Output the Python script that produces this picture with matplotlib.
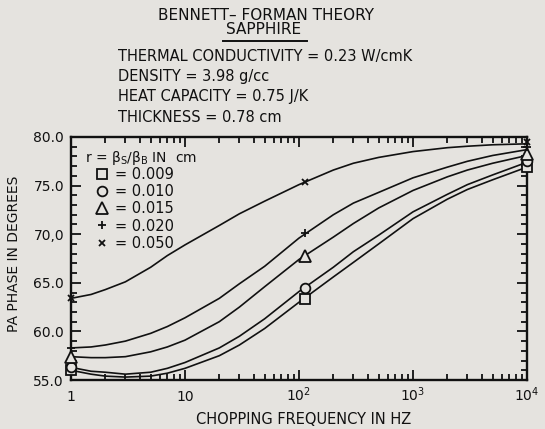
import matplotlib
matplotlib.use("Agg")
import matplotlib.pyplot as plt
from matplotlib.ticker import FixedLocator, FixedFormatter, MultipleLocator, LogLocator, NullFormatter
from matplotlib.lines import Line2D

# ---------------- data ----------------
freq = [1, 1.5, 2, 3, 5, 7, 10, 20, 30, 50, 100, 200, 300, 500, 1000, 2000, 3000, 5000, 10000]
phase_r009 = [56.0, 55.6, 55.4, 55.3, 55.4, 55.7, 56.2, 57.5, 58.6, 60.3, 63.0, 65.6, 67.1, 69.0, 71.6, 73.6, 74.6, 75.6, 76.9]
phase_r010 = [56.3, 55.9, 55.8, 55.6, 55.8, 56.2, 56.8, 58.3, 59.5, 61.3, 64.1, 66.6, 68.2, 69.9, 72.3, 74.1, 75.1, 76.1, 77.4]
phase_r015 = [57.4, 57.3, 57.3, 57.4, 57.9, 58.4, 59.1, 61.0, 62.5, 64.6, 67.4, 69.7, 71.1, 72.7, 74.5, 75.9, 76.6, 77.3, 78.1]
phase_r020 = [58.3, 58.4, 58.6, 59.0, 59.8, 60.5, 61.4, 63.4, 64.9, 66.7, 69.6, 72.0, 73.2, 74.3, 75.8, 76.9, 77.5, 78.1, 78.7]
phase_r050 = [63.4, 63.8, 64.3, 65.1, 66.6, 67.8, 68.9, 70.9, 72.1, 73.4, 75.1, 76.6, 77.3, 77.9, 78.5, 78.9, 79.05, 79.2, 79.3]

marker_freq = [1, 113, 10000]
mark_r009 = [56.0, 63.3, 76.9]
mark_r010 = [56.3, 64.5, 77.5]
mark_r015 = [57.4, 67.8, 78.2]
mark_r020 = [58.3, 70.1, 79.0]
mark_r050 = [63.4, 75.4, 79.5]

r_labels = ["= 0.009", "= 0.010", "= 0.015", "= 0.020", "= 0.050"]
x_ticks = [1, 10, 100, 1000, 10000]
x_ticklabels = ["1", "10", "$10^2$", "$10^3$", "$10^4$"]
y_ticks = [55, 60, 65, 70, 75, 80]
y_ticklabels = ["55.0", "60.0", "65.0", "70,0", "75.0", "80.0"]

# ---------------- style ----------------
plt.rcParams['font.family'] = ['DejaVu Sans']
plt.rcParams['mathtext.default'] = 'regular'
bg = '#e5e3df'
ink = '#111111'

W, H = 545, 429
fig = plt.figure(figsize=(W / 100, H / 100), dpi=100, facecolor=bg)
ax = fig.add_axes([71 / W, 1 - 380 / H, 456 / W, 243 / H], facecolor=bg)

curves = [phase_r009, phase_r010, phase_r015, phase_r020, phase_r050]
marks = [mark_r009, mark_r010, mark_r015, mark_r020, mark_r050]
mstyles = [('s', 7, True), ('o', 7, True), ('^', 8, True), ('+', 6, False), ('x', 5, False)]

for c in curves:
    ax.plot(freq, c, color=ink, lw=1.2, solid_capstyle='round', solid_joinstyle='round')
for m, (mk, ms, hollow) in zip(marks, mstyles):
    ax.plot(marker_freq, m, ls='none', marker=mk, ms=ms,
            mfc=bg if hollow else ink, mec=ink, mew=1.3, clip_on=False, zorder=5)

ax.set_xscale('log')
ax.set_xlim(1, 10000)
ax.set_ylim(55, 80)

ax.xaxis.set_major_locator(FixedLocator(x_ticks))
ax.xaxis.set_major_formatter(FixedFormatter(x_ticklabels))
ax.xaxis.set_minor_locator(LogLocator(base=10, subs=range(2, 10), numticks=20))
ax.xaxis.set_minor_formatter(NullFormatter())
ax.yaxis.set_major_locator(FixedLocator(y_ticks))
ax.yaxis.set_major_formatter(FixedFormatter(y_ticklabels))
ax.yaxis.set_minor_locator(MultipleLocator(1))

ax.tick_params(which='both', direction='in', top=True, right=True, colors=ink, width=1.3)
ax.tick_params(which='major', length=7.5, labelsize=10)
ax.tick_params(which='minor', length=4.5)
ax.tick_params(axis='y', pad=5)
ax.tick_params(axis='x', pad=15)
for lab in ax.get_xticklabels():
    lab.set_va('baseline')
for s in ax.spines.values():
    s.set_linewidth(1.7)
    s.set_color(ink)

# legend
handles = [Line2D([], [], ls='none', marker=mk, ms=ms, mfc=bg if hollow else ink,
                  mec=ink, mew=1.3) for (mk, ms, hollow) in mstyles]
ax.text(14 / 456, 1 - 21 / 243, r"r = $\beta_S/\beta_B$ IN  cm", transform=ax.transAxes,
        fontsize=10, va='center', ha='left', color=ink)
leg = ax.legend(handles, r_labels, loc='upper left', bbox_to_anchor=(24 / 456, 1 - 30 / 243),
                frameon=False, fontsize=10.5, handlelength=1.0, handletextpad=0.35,
                labelspacing=0.15, borderpad=0, borderaxespad=0)
for t in leg.get_texts():
    t.set_color(ink)

# labels
ax.set_xlabel("CHOPPING FREQUENCY IN HZ", fontsize=10.5, color=ink)
ax.xaxis.set_label_coords((304 - 71) / 456, -(419 - 380) / 243)
ax.xaxis.label.set_va('center')
fig.text(14 / W, 1 - 254 / H, "PA PHASE IN DEGREES", rotation=90, fontsize=10,
         ha='center', va='center', color=ink)

# header
fig.text(266 / W, 1 - 16 / H, "BENNETT\u2013 FORMAN THEORY", fontsize=11, ha='center', va='center', color=ink)
fig.text(264 / W, 1 - 30 / H, "SAPPHIRE", fontsize=11, ha='center', va='center', color=ink)
fig.add_artist(Line2D([223 / W, 307 / W], [1 - 41 / H, 1 - 41 / H], color=ink, lw=1.4,
                      transform=fig.transFigure))
info = ["THERMAL CONDUCTIVITY = 0.23 W/cmK", "DENSITY = 3.98 g/cc",
        "HEAT CAPACITY = 0.75 J/K", "THICKNESS = 0.78 cm"]
for txt, yy in zip(info, [57, 76, 97, 117]):
    fig.text(118 / W, 1 - yy / H, txt, fontsize=10.5, ha='left', va='center', color=ink)

fig.savefig("out.png", dpi=100, facecolor=bg)
